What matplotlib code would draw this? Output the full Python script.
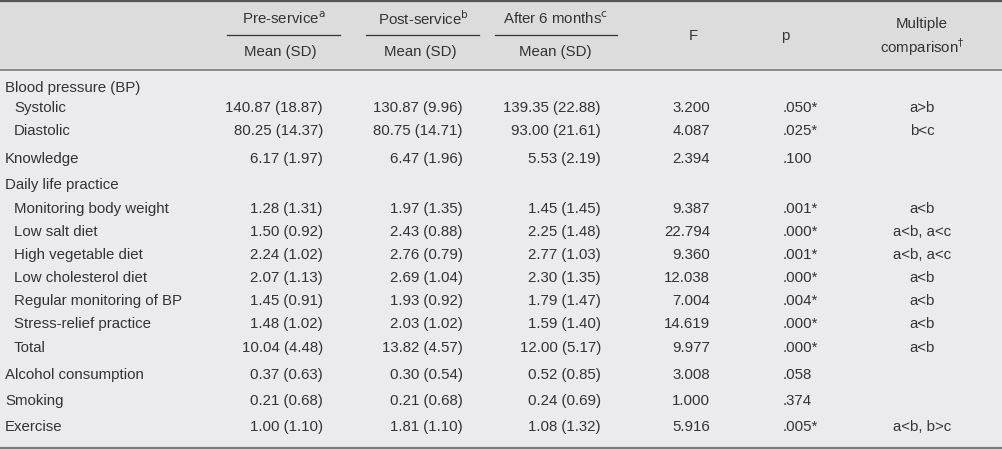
import matplotlib
matplotlib.use("Agg")
import matplotlib.pyplot as plt

# ---- data ----
labels = ["Blood pressure (BP)", "Systolic", "Diastolic", "Knowledge",
          "Daily life practice", "Monitoring body weight", "Low salt diet",
          "High vegetable diet", "Low cholesterol diet", "Regular monitoring of BP",
          "Stress-relief practice", "Total", "Alcohol consumption", "Smoking", "Exercise"]
indent = [0, 1, 1, 0, 0, 1, 1, 1, 1, 1, 1, 1, 0, 0, 0]
pre = ["", "140.87 (18.87)", "80.25 (14.37)", "6.17 (1.97)", "", "1.28 (1.31)",
       "1.50 (0.92)", "2.24 (1.02)", "2.07 (1.13)", "1.45 (0.91)", "1.48 (1.02)",
       "10.04 (4.48)", "0.37 (0.63)", "0.21 (0.68)", "1.00 (1.10)"]
post = ["", "130.87 (9.96)", "80.75 (14.71)", "6.47 (1.96)", "", "1.97 (1.35)",
        "2.43 (0.88)", "2.76 (0.79)", "2.69 (1.04)", "1.93 (0.92)", "2.03 (1.02)",
        "13.82 (4.57)", "0.30 (0.54)", "0.21 (0.68)", "1.81 (1.10)"]
after = ["", "139.35 (22.88)", "93.00 (21.61)", "5.53 (2.19)", "", "1.45 (1.45)",
         "2.25 (1.48)", "2.77 (1.03)", "2.30 (1.35)", "1.79 (1.47)", "1.59 (1.40)",
         "12.00 (5.17)", "0.52 (0.85)", "0.24 (0.69)", "1.08 (1.32)"]
fvals = ["", "3.200", "4.087", "2.394", "", "9.387", "22.794", "9.360", "12.038",
         "7.004", "14.619", "9.977", "3.008", "1.000", "5.916"]
pvals = ["", ".050*", ".025*", ".100", "", ".001*", ".000*", ".001*", ".000*",
         ".004*", ".000*", ".000*", ".058", ".374", ".005*"]
comps = ["", "a>b", "b<c", "", "", "a<b", "a<b, a<c", "a<b, a<c", "a<b",
         "a<b", "a<b", "a<b", "", "", "a<b, b>c"]

# ---- layout (pixel coordinates) ----
W, H = 1003, 449
row_y = [88, 108, 131, 159, 185, 209, 232, 255, 278, 301, 324, 348, 375, 401, 427]
FS = 10.8
TC = "#333333"
plt.rcParams['font.family'] = ['Liberation Sans', 'DejaVu Sans']

fig = plt.figure(figsize=(W / 100, H / 100), dpi=100)
ax = fig.add_axes([0, 0, 1, 1])
ax.set_xlim(0, W)
ax.set_ylim(H, 0)
ax.axis("off")

# backgrounds
ax.add_patch(plt.Rectangle((0, 0), W, 70, color="#dcdcdc", zorder=0))
ax.add_patch(plt.Rectangle((0, 70), W, H - 70, color="#ebebed", zorder=0))

# rules
ax.plot([0, W], [1, 1], color="#555555", lw=1.6)
ax.plot([0, W], [70, 70], color="#8a8a8a", lw=1.4)
ax.plot([0, W], [447.5, 447.5], color="#7a7a7a", lw=1.6)
for x0, x1 in [(227, 340), (366, 479), (495, 617)]:
    ax.plot([x0, x1], [35, 35], color="#333333", lw=0.9)

# header
def t(x, y, s, ha="left", **kw):
    ax.text(x, y, s, ha=ha, va="center", fontsize=FS, color=TC, **kw)

t(284, 19, r"Pre-service$^{\mathrm{a}}$", ha="center")
t(423, 19, r"Post-service$^{\mathrm{b}}$", ha="center")
t(555, 19, r"After 6 months$^{\mathrm{c}}$", ha="center")
for xc in (280, 420, 555):
    t(xc, 52, "Mean (SD)", ha="center")
t(693, 36, "F", ha="center")
t(785, 36, "p", ha="center")
t(922, 24, "Multiple", ha="center")
t(922, 47, r"comparison$^{\dagger}$", ha="center")

# body
for i, y in enumerate(row_y):
    t(5 + 9 * indent[i], y, labels[i])
    t(323, y, pre[i], ha="right")
    t(463, y, post[i], ha="right")
    t(601, y, after[i], ha="right")
    t(710, y, fvals[i], ha="right")
    t(783, y, pvals[i])
    t(922, y, comps[i], ha="center")

fig.savefig("out.png", dpi=100)
